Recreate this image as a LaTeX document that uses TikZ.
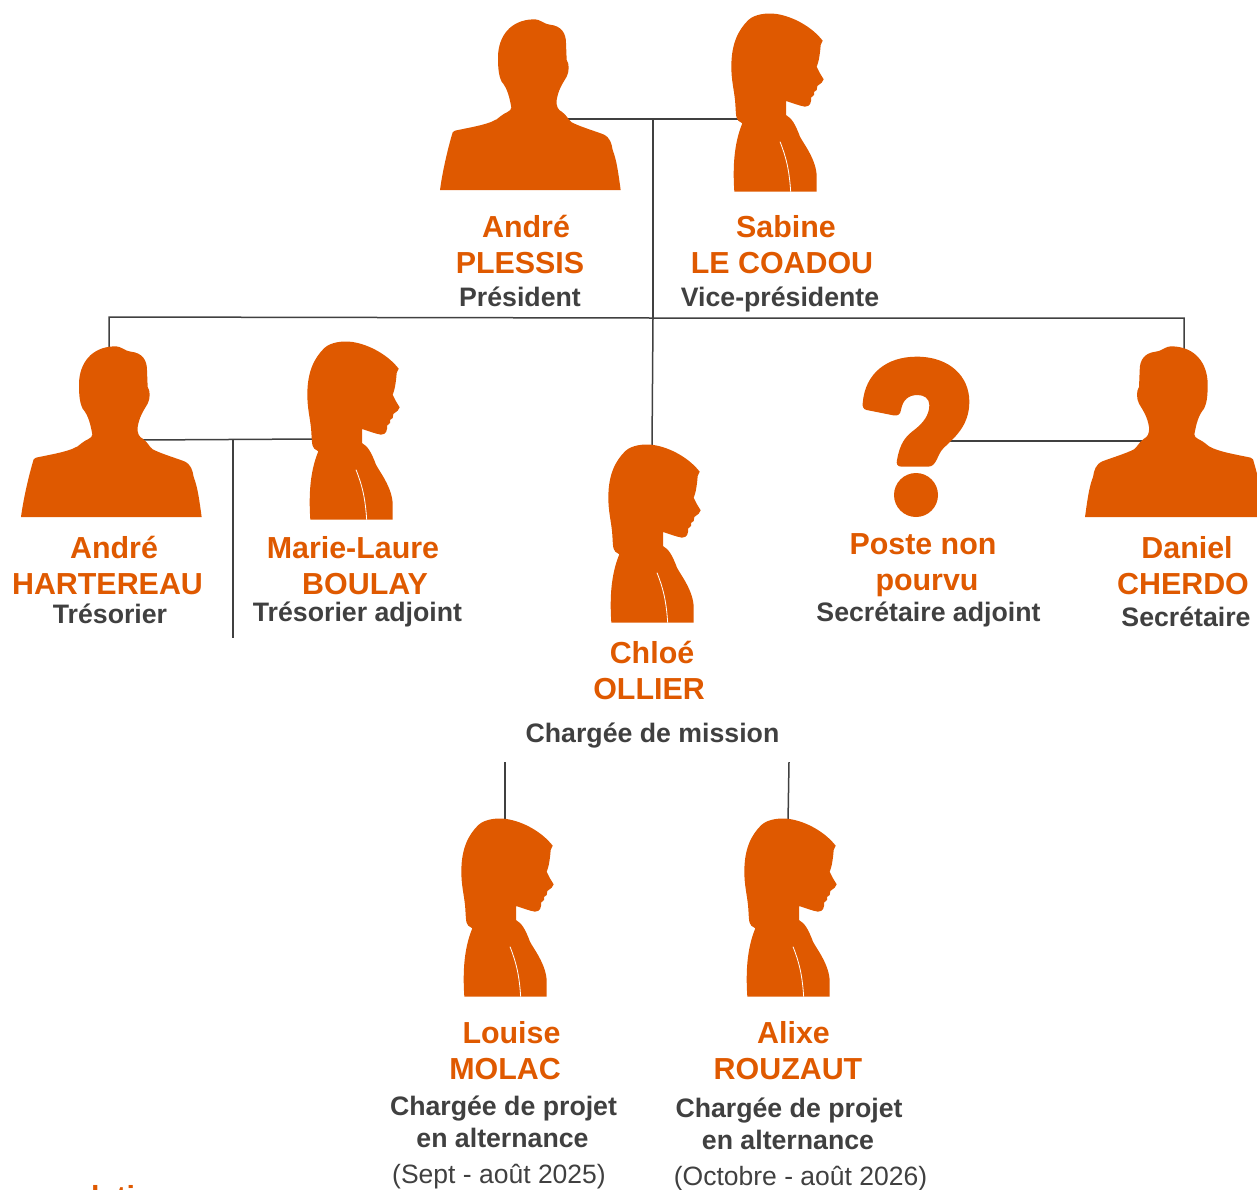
\documentclass[tikz,border=0pt]{standalone}
\usepackage{fontspec}
\setmainfont{Liberation Sans}
\definecolor{accent}{HTML}{DF5900}
\definecolor{ink}{HTML}{404040}
\tikzset{
  x=1pt,y=-1pt,
  link/.style={draw=ink,line width=1.5pt},
  nm/.style={anchor=base,inner sep=0pt,text=accent,font=\fontsize{30.4}{30}\selectfont\bfseries},
  role/.style={anchor=base,inner sep=0pt,text=ink,font=\fontsize{26.7}{26}\selectfont\bfseries},
  note/.style={anchor=base,inner sep=0pt,text=ink,font=\fontsize{26.5}{26}\selectfont},
  pics/man/.style={code={
    \fill[accent] (30,570) .. controls (38,510) and (55,440) .. (68,397) -- (75,392)
      .. controls (120,382) and (190,372) .. (210,350)
      .. controls (222,338) and (245,335) .. (244,322)
      .. controls (238,290) and (232,265) .. (215,245)
      .. controls (205,225) and (204,200) .. (204,170)
      .. controls (205,110) and (240,60) .. (310,58)
      .. controls (335,58) and (335,70) .. (360,74)
      .. controls (395,78) and (408,100) .. (408,130)
      -- (410,180) .. controls (418,190) and (418,215) .. (410,230)
      .. controls (395,255) and (385,270) .. (380,300)
      .. controls (378,320) and (385,330) .. (395,335)
      .. controls (410,345) and (415,360) .. (425,367)
      .. controls (450,380) and (500,395) .. (520,403)
      .. controls (540,412) and (545,430) .. (548,450)
      .. controls (560,480) and (565,520) .. (572,570) -- cycle;
  }},
  pics/woman/.style={code={
    \fill[accent] (913,575) .. controls (908,500) and (912,430) .. (937,370)
      -- (925,362) .. controls (916,355) and (918,330) .. (915,300)
      .. controls (912,270) and (904,240) .. (904,200)
      .. controls (904,130) and (925,90) .. (955,60)
      .. controls (975,42) and (1010,38) .. (1040,42)
      .. controls (1090,50) and (1145,80) .. (1178,122)
      -- (1172,135) .. controls (1170,165) and (1165,190) .. (1160,200)
      -- (1170,220) -- (1181,238) -- (1175,248) -- (1162,258) -- (1160,270)
      -- (1152,276) -- (1152,285) -- (1143,293)
      .. controls (1144,305) and (1142,320) .. (1125,320)
      .. controls (1110,318) and (1085,308) .. (1068,303)
      -- (1068,345) .. controls (1085,355) and (1095,370) .. (1110,410)
      .. controls (1120,430) and (1160,480) .. (1160,530) -- (1160,575) -- cycle;
    \draw[white,line width=.8pt] (1050,425) .. controls (1068,470) and (1078,510) .. (1082,575);
  }},
  pics/query/.style={code={
    \fill[accent] (38,190) .. controls (45,100) and (110,50) .. (200,50)
      .. controls (300,50) and (358,110) .. (358,185)
      .. controls (358,260) and (310,295) .. (280,325)
      .. controls (262,342) and (260,380) .. (235,380)
      -- (155,380) .. controls (142,380) and (138,372) .. (141,360)
      .. controls (150,310) and (165,290) .. (195,268)
      .. controls (220,248) and (238,225) .. (238,195)
      .. controls (238,175) and (222,165) .. (203,165)
      .. controls (175,165) and (158,180) .. (153,210)
      .. controls (151,225) and (142,228) .. (130,226)
      -- (50,210) .. controls (40,208) and (37,200) .. (38,190) -- cycle;
    \fill[accent] (198,465) circle (66);
  }},
}
\begin{document}
\begin{tikzpicture}
\useasboundingbox (0,0) rectangle (1257,1189);
% connector anchors
\coordinate (plessisR) at (566,119);
\coordinate (sabineL) at (742,119);
\coordinate (topJ) at (653,119);
\coordinate (midJ) at (653,318);
\coordinate (hartU) at (109,350);
\coordinate (hartC) at (109,317);
\coordinate (cherdoU) at (1184,352);
\coordinate (cherdoC) at (1184,318);
\coordinate (chloeT) at (652,447);
\coordinate (hartR) at (140,440);
\coordinate (boulayL) at (314,439);
\coordinate (tresJ) at (233,440);
\coordinate (tresE) at (233,638);
\coordinate (queryR) at (950,441);
\coordinate (cherdoL) at (1147,441);
\coordinate (louiseS) at (505,762);
\coordinate (louiseT) at (505,822);
\coordinate (alixeS) at (789,762);
\coordinate (alixeT) at (788,822);
% connectors
\draw[link] (plessisR) -- (sabineL);
\draw[link] (topJ) -- (midJ);
\draw[link] (hartU) -- (hartC) -- (midJ) -- (cherdoC) -- (cherdoU);
\draw[link] (midJ) -- (chloeT);
\draw[link] (hartR) -- (boulayL);
\draw[link] (tresJ) -- (tresE);
\draw[link] (queryR) -- (cherdoL);
\draw[link] (louiseS) -- (louiseT);
\draw[link] (alixeS) -- (alixeT);
% silhouettes
\pic[scale=1/3] at (430,0) {man};
\pic[scale=1/3] at (430,0) {woman};
\pic[scale=1/3] at (11,327) {man};
\pic[scale=1/3] at (6,328) {woman};
\pic[scale=1/3] at (307,431) {woman};
\pic[scale=1/3] at (850,340) {query};
\pic[xscale=-1/3,yscale=1/3] at (1275.67,327) {man};
\pic[scale=1/3] at (160,805) {woman};
\pic[scale=1/3] at (443,805) {woman};
% labels
\node[nm] (n1a) at (526,237) {André};
\node[nm] (n1b) at (520,273) {PLESSIS};
\node[role] (r1) at (520,306) {Président};
\node[nm] (n2a) at (786,237) {Sabine};
\node[nm] (n2b) at (782,273) {LE COADOU};
\node[role] (r2) at (780,306) {Vice-présidente};
\node[nm] (n3a) at (114,558) {André};
\node[nm] (n3b) at (107.5,594) {HARTEREAU};
\node[role] (r3) at (110,623) {Trésorier};
\node[nm] (n4a) at (353,558) {Marie-Laure};
\node[nm] (n4b) at (365,594) {BOULAY};
\node[role] (r4) at (357.5,621) {Trésorier adjoint};
\node[nm] (n5a) at (652,663) {Chloé};
\node[nm] (n5b) at (649,699) {OLLIER};
\node[role] (r5) at (652.5,742) {Chargée de mission};
\node[nm] (n6a) at (923,554) {Poste non};
\node[nm] (n6b) at (927,590) {pourvu};
\node[role] (r6) at (928.5,621) {Secrétaire adjoint};
\node[nm] (n7a) at (1187,558) {Daniel};
\node[nm] (n7b) at (1183,594) {CHERDO};
\node[role] (r7) at (1186,626) {Secrétaire};
\node[nm] (n8a) at (511.5,1043) {Louise};
\node[nm] (n8b) at (505,1079) {MOLAC};
\node[role] (r8a) at (503.5,1115) {Chargée de projet};
\node[role] (r8b) at (502.5,1147) {en alternance};
\node[note] (r8c) at (499,1183) {(Sept - août 2025)};
\node[nm] (n9a) at (793.5,1043) {Alixe};
\node[nm] (n9b) at (788,1079) {ROUZAUT};
\node[role] (r9a) at (789,1117) {Chargée de projet};
\node[role] (r9b) at (788,1149) {en alternance};
\node[note] (r9c) at (800.5,1185) {(Octobre - août 2026)};
\node[nm] (cut) at (113,1207) {lati};
\end{tikzpicture}
\end{document}
